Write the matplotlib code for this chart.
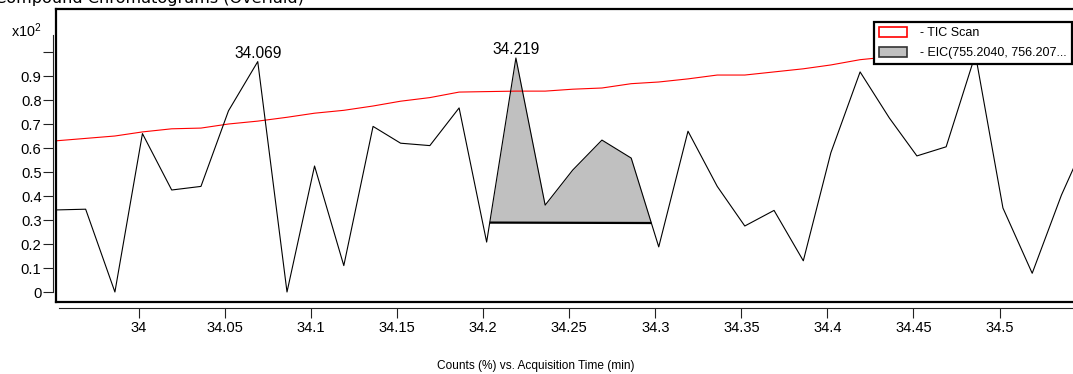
import numpy as np
import matplotlib
matplotlib.use("Agg")
import matplotlib.pyplot as plt
from matplotlib.patches import Patch

# ---------------- data ----------------
times = [33.952, 33.969, 33.986, 34.002, 34.019, 34.036, 34.052, 34.069, 34.086,
         34.102, 34.119, 34.136, 34.152, 34.169, 34.186, 34.202, 34.219, 34.236,
         34.252, 34.269, 34.286, 34.302, 34.319, 34.336, 34.352, 34.369, 34.386,
         34.402, 34.419, 34.436, 34.452, 34.469, 34.486, 34.502, 34.519, 34.536,
         34.552]
tic_scan = [0.630, 0.640, 0.650, 0.667, 0.680, 0.683, 0.700, 0.712, 0.728,
            0.745, 0.757, 0.775, 0.795, 0.810, 0.833, 0.835, 0.837, 0.837,
            0.845, 0.850, 0.868, 0.875, 0.888, 0.904, 0.904, 0.917, 0.930,
            0.946, 0.968, 0.980, 0.990, 1.000, 1.010, 1.020, 1.030, 1.040,
            1.050]
eic = [0.342, 0.345, 0.000, 0.660, 0.425, 0.440, 0.755, 0.960, 0.000,
       0.525, 0.110, 0.690, 0.620, 0.610, 0.767, 0.208, 0.975, 0.362,
       0.508, 0.633, 0.558, 0.188, 0.670, 0.440, 0.275, 0.340, 0.130,
       0.580, 0.917, 0.725, 0.567, 0.605, 0.990, 0.350, 0.078, 0.404,
       0.660]
peak_bounds = [34.2038, 34.2977]          # integration start / end
peak_labels = [34.069, 34.219]
legend_labels = ["- TIC Scan", "- EIC(755.2040, 756.207..."]
y_ticks = [0, 0.1, 0.2, 0.3, 0.4, 0.5, 0.6, 0.7, 0.8, 0.9, 1.0]
y_ticklabels = ["0", "0.1", "0.2", "0.3", "0.4", "0.5", "0.6", "0.7", "0.8", "0.9", ""]
x_ticks = [34.0, 34.05, 34.1, 34.15, 34.2, 34.25, 34.3, 34.35, 34.4, 34.45, 34.5]

# ---------------- figure ----------------
plt.rcParams['font.family'] = ['Liberation Sans', 'DejaVu Sans']
plt.rcParams['mathtext.fontset'] = 'custom'
plt.rcParams['mathtext.rm'] = 'Liberation Sans'
plt.rcParams['mathtext.it'] = 'Liberation Sans:italic'
plt.rcParams['mathtext.bf'] = 'Liberation Sans:bold'

W, H = 1073, 374
fig = plt.figure(figsize=(W / 100, H / 100), dpi=100)

def fx(px):
    return px / W

def fy(py):
    return 1 - py / H

# main plotting frame (pixels: left 56, right 1076, top 9, bottom 302)
L, R, T, B = 56, 1076, 9, 302
ax = fig.add_axes([fx(L), fy(B), fx(R - L), (B - T) / H])
x0 = 34 + (L - 139) / 1721.0
x1 = 34 + (R - 139) / 1721.0
y0 = -(B - 292) / 240.0
y1 = (292 - T) / 240.0
ax.set_xlim(x0, x1)
ax.set_ylim(y0, y1)
for s in ax.spines.values():
    s.set_linewidth(1.6)
    s.set_color('black')
ax.set_xticks([])
ax.set_yticks([])

t = np.array(times)
e = np.array(eic)

# integrated peak fill
inner = [tt for tt in times if peak_bounds[0] < tt < peak_bounds[1]]
fill_t = np.array([peak_bounds[0]] + inner + [peak_bounds[1]])
base_y = np.interp(peak_bounds, t, e)
curve_y = np.interp(fill_t, t, e)
base_line = np.interp(fill_t, peak_bounds, base_y)
ax.fill_between(fill_t, base_line, curve_y, color='#c0c0c0', linewidth=0, zorder=1)
ax.plot(peak_bounds, base_y, color='black', lw=1.6, zorder=3, solid_capstyle='butt')

ax.plot(t, tic_scan, color='#ff0000', lw=0.8, zorder=2)
ax.plot(t, e, color='black', lw=0.8, zorder=3)

for pl in peak_labels:
    idx = int(np.argmin(np.abs(t - pl)))
    ax.annotate(f"{pl:.3f}", xy=(t[idx], e[idx]), xytext=(0, 1),
                textcoords='offset pixels', ha='center', va='bottom',
                fontsize=11.2, color='black', zorder=5)

# legend
handles = [Patch(facecolor='white', edgecolor='#ff0000', linewidth=1.2),
           Patch(facecolor='#c0c0c0', edgecolor='#333333', linewidth=1.2)]
leg = ax.legend(handles, legend_labels, loc='upper left',
                bbox_to_anchor=(fx(874), fy(22)), bbox_transform=fig.transFigure,
                borderaxespad=0, prop={'family': 'Liberation Sans', 'size': 9},
                handlelength=2.2, handleheight=0.88, handletextpad=1.1,
                labelspacing=0.6, borderpad=0.4, fancybox=False, framealpha=1,
                edgecolor='black')
leg.get_frame().set_linewidth(1.6)
leg.set_zorder(10)

# separate y axis (3 px left of frame)
ay = fig.add_axes([fx(L - 3), fy(B), fx(R - L), (B - T) / H])
ay.patch.set_alpha(0)
ay.set_xlim(x0, x1)
ay.set_ylim(y0, y1)
for k in ['top', 'right', 'bottom']:
    ay.spines[k].set_visible(False)
ay.spines['left'].set_bounds(0, (292 - 35) / 240.0)
ay.spines['left'].set_linewidth(0.8)
ay.spines['left'].set_color('#222222')
ay.set_xticks([])
ay.set_yticks(y_ticks)
ay.set_yticklabels(y_ticklabels)
ay.tick_params(axis='y', length=7.2, width=0.8, color='#222222', pad=1, labelsize=10.6)

# separate x axis (6 px below frame)
axx = fig.add_axes([fx(L), fy(B + 6), fx(R - L), (B - T) / H])
axx.patch.set_alpha(0)
axx.set_xlim(x0, x1)
axx.set_ylim(y0, y1)
for k in ['top', 'right', 'left']:
    axx.spines[k].set_visible(False)
axx.spines['bottom'].set_bounds(34 + (59 - 139) / 1721.0, x1)
axx.spines['bottom'].set_linewidth(0.8)
axx.spines['bottom'].set_color('#222222')
axx.set_yticks([])
axx.set_xticks(x_ticks)
axx.set_xticklabels([f"{v:g}" for v in x_ticks])
axx.tick_params(axis='x', length=7.2, width=0.8, color='#222222', pad=1.8, labelsize=10.6)

# texts
fig.text(fx(536), fy(366), "Counts (%) vs. Acquisition Time (min)", ha='center',
         va='center', fontsize=8.6)
fig.text(fx(41), fy(37), r"x10$^2$", ha='right', va='baseline', fontsize=10.4)
fig.text(fx(-5), fy(3), "Compound Chromatograms (Overlaid)", ha='left',
         va='baseline', fontsize=11.6, family='DejaVu Sans')

fig.savefig("out.png", dpi=100)
